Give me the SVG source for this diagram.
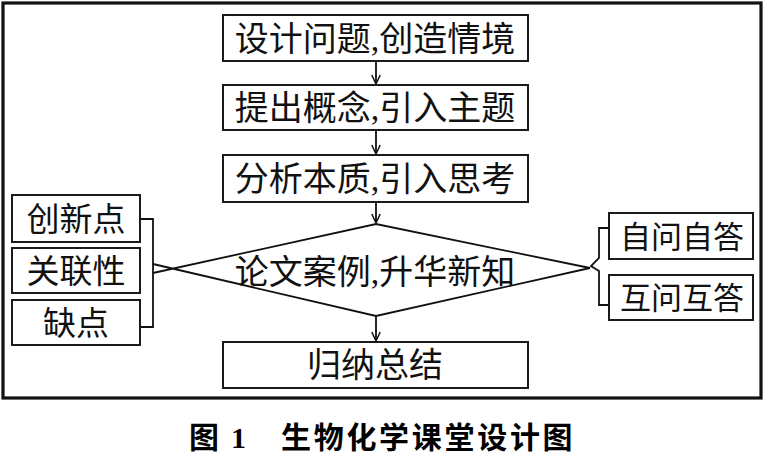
<svg xmlns="http://www.w3.org/2000/svg" width="765" height="457" viewBox="0 0 765 457">
  <defs>
    <marker id="arr" viewBox="0 0 10 10" refX="10" refY="5" markerWidth="10" markerHeight="10" markerUnits="userSpaceOnUse" orient="auto">
      <path d="M1,0.8 L10,5 L1,9.2" fill="none" stroke="#111" stroke-width="1.5"/>
    </marker>
    <style>
      .box { fill: #fff; stroke: #1a1a1a; stroke-width: 2; }
      .ln { fill: none; stroke: #111; stroke-width: 1.8; }
      .t { font-family: "Liberation Serif", "Noto Sans CJK SC", serif; fill: #111; text-anchor: middle; }
      .big { font-size: 34px; }
      .mid { font-size: 33px; }
      .sm { font-size: 31px; }
      .cap { font-family: "Liberation Serif", "Noto Sans CJK SC", serif; font-size: 30px; font-weight: bold; fill: #000; }
    </style>
  </defs>
  <rect x="0" y="0" width="765" height="457" fill="#fff"/>
  <rect x="3" y="3" width="758" height="395" fill="none" stroke="#111" stroke-width="3.2"/>

  <g id="connectors">
    <line class="ln" x1="376" y1="61" x2="376" y2="84" marker-end="url(#arr)"/>
    <line class="ln" x1="376" y1="130" x2="376" y2="154" marker-end="url(#arr)"/>
    <line class="ln" x1="376" y1="202" x2="376" y2="223" marker-end="url(#arr)"/>
    <line class="ln" x1="376" y1="316" x2="376" y2="341" marker-end="url(#arr)"/>
    <polyline class="ln" points="140,219 153,219 153,327 140,327"/>
    <polyline class="ln" points="609,228 599,228 599,258 591,266 599,271 599,305 609,305"/>
  </g>

  <g id="n1">
    <rect class="box" x="223" y="15" width="305" height="46"/>
    <text class="t big" x="375" y="51">设计问题,创造情境</text>
  </g>
  <g id="n2">
    <rect class="box" x="223" y="85" width="305" height="45"/>
    <text class="t big" x="375" y="120">提出概念,引入主题</text>
  </g>
  <g id="n3">
    <rect class="box" x="223" y="155" width="305" height="47"/>
    <text class="t big" x="375" y="191">分析本质,引入思考</text>
  </g>
  <g id="n4">
    <polyline class="ln" points="153,273 376,224 590,268 376,316 153,264" stroke-width="2"/>
    <text class="t big" x="375" y="284">论文案例,升华新知</text>
  </g>
  <g id="n5">
    <rect class="box" x="223" y="342" width="305" height="46"/>
    <text class="t big" x="375" y="377">归纳总结</text>
  </g>
  <g id="l1">
    <rect class="box" x="12" y="195" width="128" height="47"/>
    <text class="t mid" x="76" y="231">创新点</text>
  </g>
  <g id="l2">
    <rect class="box" x="12" y="248" width="128" height="45"/>
    <text class="t mid" x="76" y="283">关联性</text>
  </g>
  <g id="l3">
    <rect class="box" x="12" y="300" width="128" height="45"/>
    <text class="t mid" x="76" y="335">缺点</text>
  </g>
  <g id="r1">
    <rect class="box" x="609" y="213" width="144" height="46"/>
    <text class="t sm" x="682" y="248">自问自答</text>
  </g>
  <g id="r2">
    <rect class="box" x="609" y="275" width="144" height="45"/>
    <text class="t sm" x="682" y="309">互问互答</text>
  </g>

  <g id="caption">
    <text class="cap" y="448"><tspan x="189">图</tspan><tspan x="231">1</tspan><tspan x="281" letter-spacing="2.7">生物化学课堂设计图</tspan></text>
  </g>
</svg>
